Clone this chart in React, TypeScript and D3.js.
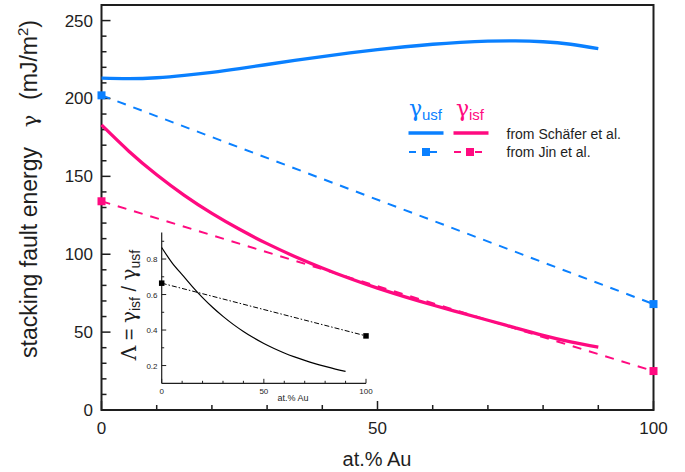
import React from "react";
import * as d3 from "d3";

// ---------- data ----------
const compositions = [0, 5, 10, 15, 20, 25, 30, 35, 40, 45, 50, 55, 60, 65, 70, 75, 80, 85, 90];
const usfSchaefer = [213, 212.7, 213.3, 214.8, 216.8, 219.2, 221.8, 224.4, 226.9, 229.2, 231.3, 233.2, 234.8, 236, 236.8, 237, 236.4, 234.8, 232];
const isfSchaefer = [183, 166, 151, 137.8, 126.2, 116, 106.8, 98.6, 91.2, 84.4, 78.2, 72.6, 67.4, 62.5, 57.6, 52.7, 47.9, 43.7, 40.3];
const jinCompositions = [0, 100];
const usfJin = [202, 68];
const isfJin = [134, 25];
const lambdaSchaefer = [0.865, 0.78, 0.712, 0.645, 0.583, 0.527, 0.477, 0.432, 0.392, 0.356, 0.324, 0.296, 0.271, 0.249, 0.229, 0.211, 0.195, 0.18, 0.167];
const lambdaJin = [0.664, 0.367];

const mainXTicks = [0, 50, 100];
const mainYTicks = [0, 50, 100, 150, 200, 250];
const insetXTicks = [0, 50, 100];
const insetYTicks = [0.2, 0.4, 0.6, 0.8];

const BLUE = "#0a80ff";
const PINK = "#ff0a80";
const INK = "#1e1e1e";
const FONT = "'Liberation Sans', Arial, Helvetica, sans-serif";
const GREEK = "'DejaVu Serif', 'Liberation Serif', serif";

export default function App() {
  // main scales
  const x = d3.scaleLinear().domain([0, 100]).range([101.5, 653.5]);
  const y = d3.scaleLinear().domain([0, 260]).range([410, 5]);
  // inset scales
  const ix = d3.scaleLinear().domain([0, 100]).range([161.7, 366]);
  const iy = d3.scaleLinear().domain([0.1, 0.95]).range([383.3, 232.4]);

  const curveLine = (xs: number[], sx: any, sy: any) =>
    d3
      .line<number>()
      .x((_, i) => sx(xs[i]))
      .y((d) => sy(d))
      .curve(d3.curveNatural);
  const straightLine = (xs: number[], sx: any, sy: any) =>
    d3
      .line<number>()
      .x((_, i) => sx(xs[i]))
      .y((d) => sy(d));

  const usfPath = curveLine(compositions, x, y)(usfSchaefer) || "";
  const isfPath = curveLine(compositions, x, y)(isfSchaefer) || "";
  const usfJinPath = straightLine(jinCompositions, x, y)(usfJin) || "";
  const isfJinPath = straightLine(jinCompositions, x, y)(isfJin) || "";
  const lamPath = curveLine(compositions, ix, iy)(lambdaSchaefer) || "";
  const lamJinPath = straightLine(jinCompositions, ix, iy)(lambdaJin) || "";

  const minorX = d3.range(0, 101, 10);
  const minorY = d3.range(0, 251, 10);
  const insetMinorX = d3.range(0, 101, 10);
  const insetMinorY = d3.range(0.2, 0.91, 0.1);

  const sq = 8;
  const isq = 5.5;

  return (
    <svg
      width={685}
      height={472}
      style={{ position: "absolute", left: 0, top: 0, background: "#fff" }}
      fontFamily={FONT}
    >
      <rect x={0} y={0} width={685} height={472} fill="#fff" />

      {/* main frame */}
      <rect
        x={x(0)}
        y={y(260)}
        width={x(100) - x(0)}
        height={y(0) - y(260)}
        fill="none"
        stroke={INK}
        strokeWidth={2}
      />

      {/* main ticks */}
      {minorX.map((v) => {
        const major = mainXTicks.includes(v);
        return (
          <line key={"mx" + v} x1={x(v)} x2={x(v)} y1={y(0)} y2={y(0) - (major ? 9 : 5)} stroke={INK} strokeWidth={1.5} />
        );
      })}
      {minorY.map((v) => {
        const major = mainYTicks.includes(v);
        return (
          <line key={"my" + v} x1={x(0)} x2={x(0) + (major ? 9 : 5)} y1={y(v)} y2={y(v)} stroke={INK} strokeWidth={1.5} />
        );
      })}
      {mainXTicks.map((v) => (
        <text key={"mxl" + v} x={x(v)} y={433.5} fontSize={17} textAnchor="middle" fill={INK}>
          {v}
        </text>
      ))}
      {mainYTicks.map((v) => (
        <text key={"myl" + v} x={93} y={y(v) + 6} fontSize={17} textAnchor="end" fill={INK}>
          {v}
        </text>
      ))}

      {/* axis titles */}
      <text x={377} y={466} fontSize={20} textAnchor="middle" fill={INK}>
        at.% Au
      </text>
      <text transform="translate(37,358) rotate(-90)" fontSize={23} textAnchor="start" fill={INK}>
        stacking fault energy
      </text>
      <text transform="translate(37,121) rotate(-90)" fontSize={21} textAnchor="middle" fill={INK} fontFamily={GREEK}>
        γ
      </text>
      <text transform="translate(37,20) rotate(-90)" fontSize={23} textAnchor="end" fill={INK}>
        (mJ/m
        <tspan dy={-9} fontSize={15}>2</tspan>
        <tspan dy={9}>)</tspan>
      </text>

      {/* Jin et al. dashed lines */}
      <path d={usfJinPath} fill="none" stroke={BLUE} strokeWidth={2} strokeDasharray="9,8" />
      <path d={isfJinPath} fill="none" stroke={PINK} strokeWidth={2} strokeDasharray="9,8" />
      {jinCompositions.map((c, i) => (
        <g key={"jm" + i}>
          <rect x={x(c) - sq / 2} y={y(usfJin[i]) - sq / 2} width={sq} height={sq} fill={BLUE} />
          <rect x={x(c) - sq / 2} y={y(isfJin[i]) - sq / 2} width={sq} height={sq} fill={PINK} />
        </g>
      ))}

      {/* Schaefer et al. solid curves */}
      <path d={usfPath} fill="none" stroke={BLUE} strokeWidth={3.3} />
      <path d={isfPath} fill="none" stroke={PINK} strokeWidth={3.3} />

      {/* legend */}
      <text x={409} y={116} fontSize={22} fill={BLUE} fontFamily={GREEK}>γ</text>
      <text x={422} y={120} fontSize={15} fill={BLUE}>usf</text>
      <text x={456} y={116} fontSize={22} fill={PINK} fontFamily={GREEK}>γ</text>
      <text x={469} y={120} fontSize={15} fill={PINK}>isf</text>
      <line x1={408.5} x2={443.5} y1={133} y2={133} stroke={BLUE} strokeWidth={3.3} />
      <line x1={453.5} x2={488.5} y1={133} y2={133} stroke={PINK} strokeWidth={3.3} />
      <line x1={409} x2={416} y1={152} y2={152} stroke={BLUE} strokeWidth={2} />
      <line x1={430} x2={437} y1={152} y2={152} stroke={BLUE} strokeWidth={2} />
      <rect x={426 - sq / 2} y={152 - sq / 2} width={sq} height={sq} fill={BLUE} />
      <line x1={454} x2={461} y1={152} y2={152} stroke={PINK} strokeWidth={2} />
      <line x1={475} x2={482} y1={152} y2={152} stroke={PINK} strokeWidth={2} />
      <rect x={470 - sq / 2} y={152 - sq / 2} width={sq} height={sq} fill={PINK} />
      <text x={506.5} y={139} fontSize={14} fill={INK}>from Schäfer et al.</text>
      <text x={506.5} y={156.5} fontSize={14} fill={INK}>from Jin et al.</text>

      {/* inset */}
      <line x1={ix(0)} x2={ix(0)} y1={iy(0.1)} y2={iy(0.95)} stroke={INK} strokeWidth={1.2} />
      <line x1={ix(0)} x2={ix(100)} y1={iy(0.1)} y2={iy(0.1)} stroke={INK} strokeWidth={1.2} />
      {insetMinorX.map((v) => {
        const major = insetXTicks.includes(v);
        return (
          <line key={"ix" + v} x1={ix(v)} x2={ix(v)} y1={iy(0.1)} y2={iy(0.1) - (major ? 4.5 : 2.5)} stroke={INK} strokeWidth={1} />
        );
      })}
      {insetMinorY.map((v, i) => {
        const major = i % 2 === 0;
        return (
          <line key={"iy" + i} x1={ix(0)} x2={ix(0) + (major ? 4.5 : 2.5)} y1={iy(v)} y2={iy(v)} stroke={INK} strokeWidth={1} />
        );
      })}
      {insetXTicks.map((v) => (
        <text key={"ixl" + v} x={ix(v)} y={394} fontSize={8} textAnchor="middle" fill={INK}>
          {v}
        </text>
      ))}
      {insetYTicks.map((v) => (
        <text key={"iyl" + v} x={157.5} y={iy(v) + 3} fontSize={8} textAnchor="end" fill={INK}>
          {v.toFixed(1)}
        </text>
      ))}
      <text x={293} y={401} fontSize={9} textAnchor="middle" fill={INK}>
        at.% Au
      </text>
      <text transform="translate(136,305) rotate(-90)" fontSize={20} textAnchor="middle" fill={INK}>
        <tspan fontFamily={GREEK}>Λ</tspan>
        <tspan> = </tspan>
        <tspan fontFamily={GREEK}>γ</tspan>
        <tspan dy={4} fontSize={14}>isf</tspan>
        <tspan dy={-4}> / </tspan>
        <tspan fontFamily={GREEK}>γ</tspan>
        <tspan dy={4} fontSize={14}>usf</tspan>
      </text>
      <path d={lamPath} fill="none" stroke="#000" strokeWidth={1.2} />
      <path d={lamJinPath} fill="none" stroke="#000" strokeWidth={1} strokeDasharray="5,2,1.5,2" />
      {jinCompositions.map((c, i) => (
        <rect key={"il" + i} x={ix(c) - isq / 2} y={iy(lambdaJin[i]) - isq / 2} width={isq} height={isq} fill="#000" />
      ))}
    </svg>
  );
}
